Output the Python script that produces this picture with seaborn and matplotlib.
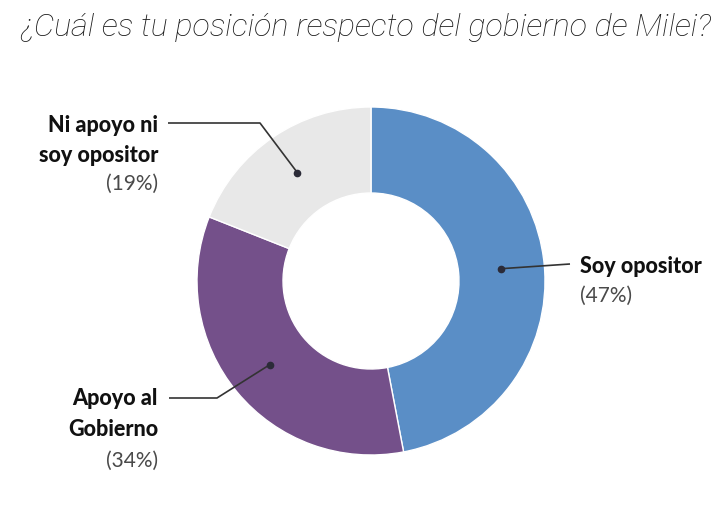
import numpy as np
import matplotlib
matplotlib.use('Agg')
import matplotlib.pyplot as plt
import seaborn as sns

categorias = ['Soy opositor', 'Apoyo al Gobierno', 'Ni apoyo ni soy opositor']
lineas = [['Soy opositor'], ['Apoyo al', 'Gobierno'], ['Ni apoyo ni', 'soy opositor']]
valores = [47, 34, 19]
colores = ['#5a8ec6', '#74508a', '#e8e8e8']

titulo = '¿Cuál es tu posición respecto del gobierno de Milei?'

W, H = 728, 518


def Y(y):
    # pixel (desde arriba) -> coordenada del eje
    return H - y


sns.set_theme(style='white')
plt.rcParams['font.family'] = ['Lato', 'DejaVu Sans']

fig = plt.figure(figsize=(W / 100, H / 100), dpi=100)
ax = fig.add_axes([0, 0, 1, 1])

cx, cy = 371, 281
r_ext = 174
r_int = 88

wedges, _ = ax.pie(valores, colors=colores, startangle=90, counterclock=False,
                   radius=r_ext, center=(cx, Y(cy)),
                   wedgeprops=dict(width=r_ext - r_int, edgecolor='white', linewidth=1))

ax.set_xlim(0, W)
ax.set_ylim(0, H)
ax.set_aspect('equal')
ax.axis('off')

# puntos en el medio de cada porcion
r_mid = (r_ext + r_int) / 2
puntos = []
for w in wedges:
    ang = np.deg2rad((w.theta1 + w.theta2) / 2)
    puntos.append((cx + r_mid * np.cos(ang), Y(cy) + r_mid * np.sin(ang)))

# lineas guia
guias = [
    [(570, Y(264))],
    [(217, Y(398)), (169, Y(398))],
    [(260, Y(123)), (168, Y(123))],
]
for p, g in zip(puntos, guias):
    xs = [p[0]] + [q[0] for q in g]
    ys = [p[1]] + [q[1] for q in g]
    ax.plot(xs, ys, color='#333333', lw=1.2, solid_capstyle='butt')
    ax.plot(p[0], p[1], 'o', color='#2b2b38', ms=4.5)

# textos: x, alineacion, lineas base (px)
pos_txt = [
    (580, 'left', [273, 302]),
    (158, 'right', [405, 436, 467]),
    (158, 'right', [132, 162, 190]),
]
for lin, v, (x, ha, bases) in zip(lineas, valores, pos_txt):
    for t, b in zip(lin, bases):
        ax.text(x, Y(b), t, fontsize=15.5, fontweight='black', color='#111111',
                ha=ha, va='baseline')
    ax.text(x, Y(bases[-1]), f'({v}%)', fontsize=15, color='#4a4a4a',
            ha=ha, va='baseline')

fig.text(20 / W, 1 - 36 / H, titulo, fontsize=23.2, style='italic', fontweight='light',
         color='#1a1a1a', ha='left', va='baseline', family=['Roboto', 'DejaVu Sans'])

fig.savefig('out.png', dpi=100)
